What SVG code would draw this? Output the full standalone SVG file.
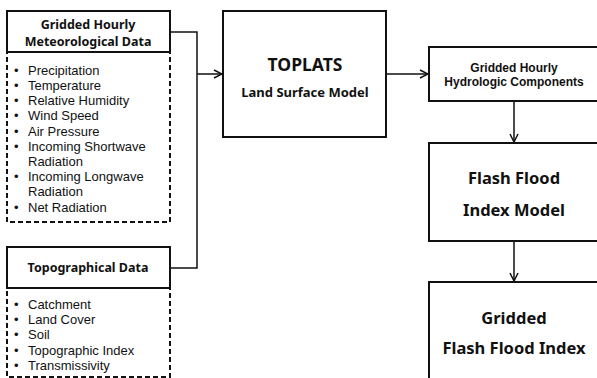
<svg xmlns="http://www.w3.org/2000/svg" width="597" height="378" viewBox="0 0 597 378">
<style>
text{font-family:"Noto Sans","Open Sans","Liberation Sans",sans-serif;fill:#111}
.box{fill:#fff;stroke:#111;stroke-width:2}
.dash{fill:none;stroke:#111;stroke-width:2;stroke-dasharray:5,3}
.h{font-weight:bold;font-size:12.5px;text-anchor:middle}
.hs{font-family:"Liberation Sans",Arial,sans-serif;font-weight:bold;font-size:12px;text-anchor:middle}
.li text{font-family:"Liberation Sans",Arial,sans-serif;font-size:13px}
.big{font-weight:bold;font-size:16.5px;text-anchor:middle}
.con{fill:none;stroke:#111;stroke-width:1.5}
</style>
<defs>
<marker id="ah" viewBox="0 0 10 10" refX="9" refY="5" markerWidth="10" markerHeight="10" markerUnits="userSpaceOnUse" orient="auto">
<path d="M1,1 L9,5 L1,9" fill="none" stroke="#111" stroke-width="1.5"/>
</marker>
</defs>
<g id="connectors">
<path class="con" d="M170,32 H197 V268 H170"/>
<path class="con" d="M197,74 H222" marker-end="url(#ah)"/>
<path class="con" d="M387,74 H428" marker-end="url(#ah)"/>
<path class="con" d="M514,102 V142" marker-end="url(#ah)"/>
<path class="con" d="M514,241 V281" marker-end="url(#ah)"/>
</g>
<g id="met">
<rect class="dash" x="7" y="52" width="163" height="170"/>
<rect class="box" x="7" y="11" width="163" height="41"/>
<text class="h" x="88" y="29">Gridded Hourly</text>
<text class="h" x="88" y="46">Meteorological Data</text>
<g class="li">
<text x="14" y="75">•</text><text x="28" y="75">Precipitation</text>
<text x="14" y="90">•</text><text x="28" y="90">Temperature</text>
<text x="14" y="105">•</text><text x="28" y="105">Relative Humidity</text>
<text x="14" y="120">•</text><text x="28" y="120">Wind Speed</text>
<text x="14" y="136">•</text><text x="28" y="136">Air Pressure</text>
<text x="14" y="151">•</text><text x="28" y="151">Incoming Shortwave</text>
<text x="28" y="166">Radiation</text>
<text x="14" y="181">•</text><text x="28" y="181">Incoming Longwave</text>
<text x="28" y="196">Radiation</text>
<text x="14" y="212">•</text><text x="28" y="212">Net Radiation</text>
</g>
</g>
<g id="topo">
<rect class="dash" x="7" y="288" width="163" height="89"/>
<rect class="box" x="7" y="247" width="163" height="41"/>
<text class="h" x="88" y="272">Topographical Data</text>
<g class="li">
<text x="14" y="309">•</text><text x="28" y="309">Catchment</text>
<text x="14" y="324">•</text><text x="28" y="324">Land Cover</text>
<text x="14" y="339">•</text><text x="28" y="339">Soil</text>
<text x="14" y="355">•</text><text x="28" y="355">Topographic Index</text>
<text x="14" y="370">•</text><text x="28" y="370">Transmissivity</text>
</g>
</g>
<g id="toplats">
<rect class="box" x="223" y="11" width="163" height="126"/>
<text x="305" y="71" style="font-weight:bold;font-size:17.5px;text-anchor:middle">TOPLATS</text>
<text class="h" x="305" y="97" style="font-size:13px">Land Surface Model</text>
</g>
<g id="hydro">
<rect class="box" x="429" y="47" width="180" height="54"/>
<text class="hs" x="514" y="72">Gridded Hourly</text>
<text class="hs" x="514" y="86">Hydrologic Components</text>
</g>
<g id="ffim">
<rect class="box" x="429" y="143" width="180" height="98"/>
<text class="big" x="514" y="184">Flash Flood</text>
<text class="big" x="514" y="216">Index Model</text>
</g>
<g id="gffi">
<rect class="box" x="429" y="282" width="180" height="110"/>
<text class="big" x="514" y="324">Gridded</text>
<text class="big" x="514" y="354">Flash Flood Index</text>
</g>
</svg>
